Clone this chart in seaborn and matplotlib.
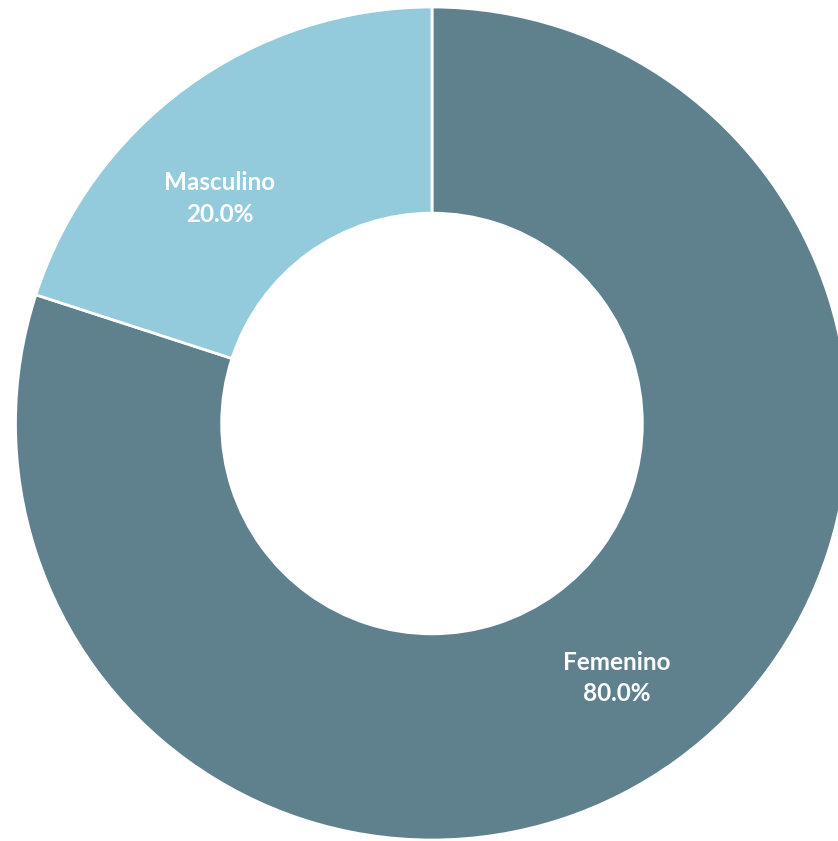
import matplotlib
matplotlib.use('Agg')
import matplotlib.pyplot as plt
import seaborn as sns

# data
categories = ['Femenino', 'Masculino']
values = [80.0, 20.0]
colors = ['#5F818D', '#93CBDD']

sns.set_theme(style='white')
plt.rcParams['font.family'] = ['Lato', 'DejaVu Sans']

fig = plt.figure(figsize=(8.38, 8.41), dpi=100)
ax = fig.add_axes([0, 0, 1, 1])

wedges, _ = ax.pie(values, colors=colors, startangle=90, counterclock=False,
                   radius=1.0, wedgeprops=dict(width=0.495, edgecolor='white', linewidth=2))

# label positions (text only)
label_pos = {'Femenino': (0.444, -0.611), 'Masculino': (-0.509, 0.540)}
for cat, val in zip(categories, values):
    x, y = label_pos[cat]
    ax.text(x, y, f'{cat}\n{val:.1f}%', ha='center', va='center', color='white',
            fontsize=17.5, fontweight='bold', linespacing=1.45)

# put the ring where it sits in the picture (center ~ (432, 423) px, r ~ 416 px)
r_px = 416.5
ax.set_xlim(-432 / r_px, (838 - 432) / r_px)
ax.set_ylim(-(841 - 423.5) / r_px, 423.5 / r_px)
ax.set_aspect('auto')
ax.axis('off')

fig.savefig('out.png', dpi=100)
